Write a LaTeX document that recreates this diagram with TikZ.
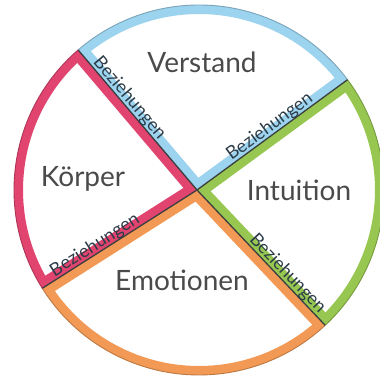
\documentclass[tikz,border=0pt]{standalone}
\usepackage{fontspec}
\setmainfont{Lato}
\usetikzlibrary{calc}
\definecolor{cblue}{HTML}{9CD3EE}
\definecolor{cgreen}{HTML}{97C751}
\definecolor{corange}{HTML}{F29A55}
\definecolor{cpink}{HTML}{E0446F}
\definecolor{labelgray}{HTML}{4A4A4A}
\definecolor{bzgray}{HTML}{2C3C48}
\definecolor{sepgray}{HTML}{3A3F40}
\newcommand\mysector[3]{%
  \begin{scope}
    \clip (o) -- ($(cc)+(#1:185)$) arc[start angle=#1, end angle=#2, radius=185] -- cycle;
    \draw[#3, line width=18pt, line join=miter]
      (o) -- ($(cc)+(#1:185)$) arc[start angle=#1, end angle=#2, radius=185] -- cycle;
  \end{scope}
  \draw[#3!78!black, line width=0.9pt] ($(cc)+(#1:185)$) arc[start angle=#1, end angle=#2, radius=185];
}
\begin{document}
\begin{tikzpicture}[x=1pt,y=1pt,
  biglabel/.style={text=labelgray, font=\fontsize{28}{30}\selectfont, inner sep=0},
  bz/.style={text=bzgray, font=\fontsize{18}{19}\selectfont, inner sep=0, anchor=base},
  sep/.style={draw=sepgray, line width=1.3pt}]
\useasboundingbox (0,0) rectangle (379,379);
\fill[white] (0,0) rectangle (379,379);
\coordinate (cc) at (199,189);
\coordinate (o) at (197,189);
\coordinate (ul) at ($(cc)+(130.8:185)$);
\coordinate (ur) at ($(cc)+(36.6:185)$);
\coordinate (lr) at ($(cc)+(-47:185)$);
\coordinate (ll) at ($(cc)+(212.1:185)$);
% sectors
\mysector{36.6}{130.8}{cblue}
\mysector{-47}{36.6}{cgreen}
\mysector{212.1}{313}{corange}
\mysector{130.8}{212.1}{cpink}
% separators
\draw[sep] (o) -- (ul);
\draw[sep] (o) -- (ur);
\draw[sep] (o) -- (lr);
\draw[sep] (o) -- (ll);
% labels
\node[biglabel] (verstand) at (202,317) {Verstand};
\node[biglabel] (koerper) at (83,200) {Körper};
\node[biglabel] (intuition) at (299,189) {Intuition};
\node[biglabel] (emotionen) at (182,99) {Emotionen};
% Beziehungen
\node[bz, rotate=-49.7] (bzul) at ($(o)+(130.3:114)+(40.3:3)$) {Beziehungen};
\node[bz, rotate=36.2] (bzur) at ($(o)+(36.2:96)+(126.2:3)$) {Beziehungen};
\node[bz, rotate=-46.5] (bzlr) at ($(o)+(-46.5:123)+(43.5:3)$) {Beziehungen};
\node[bz, rotate=32.5] (bzll) at ($(o)+(212.5:116)+(122.5:3)$) {Beziehungen};
\end{tikzpicture}
\end{document}
